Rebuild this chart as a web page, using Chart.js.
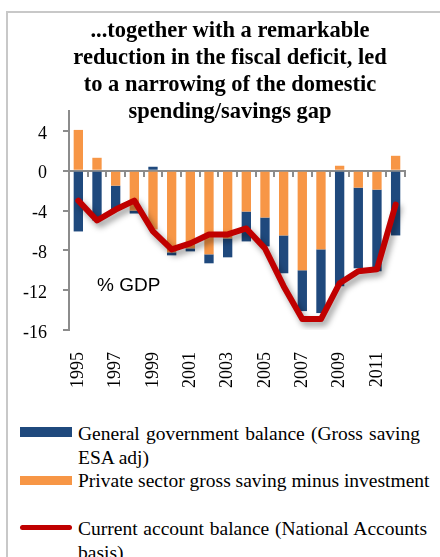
<!doctype html>
<html>
<head>
<meta charset="UTF-8">
<title>Saving balances</title>
<script src="https://cdn.jsdelivr.net/npm/chart.js@4.4.1/dist/chart.umd.min.js"></script>
<style>
body { margin: 0; width: 440px; height: 557px; overflow: hidden; background: #fff; position: relative; font-family: "Liberation Serif", serif; color: #000; }
#frame { position: absolute; left: 6px; top: 11px; width: 460px; height: 600px; border-left: 2px solid #c8c8c8; border-top: 2px solid #c8c8c8; }
#box { position: absolute; left: 0; top: 0; width: 440px; height: 400px; }
#title { position: absolute; left: 7px; width: 446px; top: 16px; text-align: center; font-weight: bold; font-size: 22.5px; line-height: 27px; }
.key { position: absolute; left: 20px; width: 52px; }
.txt { position: absolute; left: 78px; font-size: 19.5px; line-height: 24px; white-space: nowrap; }
.just { white-space: normal; text-align: justify; text-align-last: justify; }
</style>
</head>
<body>
<div id="frame"></div>
<div id="box"><canvas id="chart"></canvas></div>
<div id="title">...together with a remarkable<br>reduction in the fiscal deficit, led<br>to a narrowing of the domestic<br>spending/savings gap</div>

<div class="key" style="top:427px;height:10px;background:#1f497d"></div>
<div class="txt just" style="top:422px;width:342px">General government balance (Gross saving</div>
<div class="txt" style="top:446px">ESA adj)</div>

<div class="key" style="top:476px;height:9px;background:#f79646"></div>
<div class="txt" style="top:469px">Private sector gross saving minus investment</div>

<div class="key" style="top:525px;height:5px;border-radius:3px;background:#c00000"></div>
<div class="txt just" style="top:517px;width:349px">Current account balance (National Accounts</div>
<div class="txt" style="top:541px">basis)</div>

<script>
// % of GDP, 1995-2012
var years = ['1995','1996','1997','1998','1999','2000','2001','2002','2003',
             '2004','2005','2006','2007','2008','2009','2010','2011','2012'];
var govBalance     = [-6.1, -5.0, -2.4, -0.3, 0.4, -0.3, -0.3, -0.9, -1.9,
                      -3.0, -2.9, -3.8, -4.1, -6.4, -11.6, -8.1, -8.2, -6.5];
var privateBalance = [4.1, 1.3, -1.5, -4.0, -5.9, -8.2, -7.8, -8.4, -6.8,
                      -4.1, -4.7, -6.5, -10.0, -7.9, 0.5, -1.7, -1.9, 1.5];
var currentAccount = [-3.0, -5.0, -3.9, -3.0, -6.1, -7.9, -7.3, -6.4, -6.4,
                      -5.8, -7.8, -11.6, -14.9, -14.9, -11.3, -10.1, -9.9, -3.4];
var yTicks = [-16, -12, -8, -4, 0, 4];
var unitLabel = '% GDP';

// soft drop shadow under the current account line
var lineShadow = {
  id: 'lineShadow',
  beforeDatasetDraw: function(chart, args) {
    if (chart.data.datasets[args.index].type !== 'line') return;
    var ctx = chart.ctx;
    ctx.save();
    ctx.shadowColor = 'rgba(0,0,0,0.4)';
    ctx.shadowBlur = 6;
    ctx.shadowOffsetX = 3;
    ctx.shadowOffsetY = 4;
  },
  afterDatasetDraw: function(chart, args) {
    if (chart.data.datasets[args.index].type !== 'line') return;
    chart.ctx.restore();
  }
};

var unitText = {
  id: 'unitText',
  afterDatasetsDraw: function(chart) {
    var ctx = chart.ctx;
    ctx.save();
    ctx.font = '19px "Liberation Sans"';
    ctx.fillStyle = '#000';
    ctx.textBaseline = 'middle';
    ctx.fillText(unitLabel, chart.scales.x.getPixelForValue(1), chart.scales.y.getPixelForValue(-11.6));
    ctx.restore();
  }
};

var axisGrey = '#8c8c8c';
var tickFont = { family: 'Liberation Serif', size: 18 };

new Chart(document.getElementById('chart'), {
  type: 'bar',
  data: {
    labels: years,
    datasets: [
      { type: 'line', label: 'Current account balance (National Accounts basis)', data: currentAccount,
        borderColor: '#c00000', backgroundColor: '#c00000', borderWidth: 6, pointRadius: 0,
        tension: 0, borderJoinStyle: 'round', borderCapStyle: 'round', stack: 'ca', order: 0 },
      { label: 'Private sector gross saving minus investment', data: privateBalance,
        backgroundColor: '#f79646', stack: 'bal', order: 1 },
      { label: 'General government balance (Gross saving ESA adj)', data: govBalance,
        backgroundColor: '#1f497d', stack: 'bal', order: 1 }
    ]
  },
  options: {
    responsive: true,
    maintainAspectRatio: false,
    animation: false,
    devicePixelRatio: 1,
    layout: { padding: { top: 111, right: 28, left: 0, bottom: 0 } },
    datasets: { bar: { barPercentage: 0.5, categoryPercentage: 1 } },
    plugins: { legend: { display: false }, tooltip: { enabled: false } },
    scales: {
      x: {
        stacked: true,
        offset: true,
        grid: { display: false, drawTicks: false },
        border: { display: false },
        ticks: {
          autoSkip: false, minRotation: 90, maxRotation: 90, padding: 22,
          color: '#000', font: tickFont,
          callback: function(v, i) { return i % 2 === 0 ? years[i] : ''; }
        },
        afterFit: function(s) { s.height = 70; }
      },
      x2: {
        type: 'category',
        position: { y: 0 },
        offset: true,
        grid: { offset: true, drawOnChartArea: false, tickLength: 5, color: axisGrey, lineWidth: 2 },
        border: { color: axisGrey, width: 2 },
        ticks: { display: false }
      },
      y: {
        stacked: true,
        min: -16,
        max: 6,
        afterBuildTicks: function(s) { s.ticks = yTicks.map(function(v) { return { value: v }; }); },
        grid: { drawOnChartArea: false, tickLength: 6, color: axisGrey, lineWidth: 2 },
        border: { color: axisGrey, width: 2 },
        ticks: {
          padding: 16, labelOffset: 3, color: '#000', font: tickFont,
          callback: function(v) { return String(v); }
        },
        afterFit: function(s) { s.width = 69; }
      }
    }
  },
  plugins: [lineShadow, unitText]
});
</script>
</body>
</html>
